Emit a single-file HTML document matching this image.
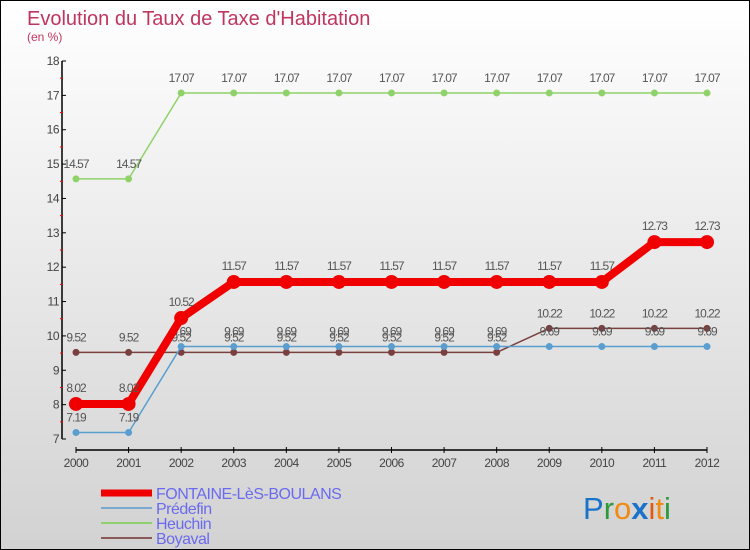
<!DOCTYPE html>
<html><head><meta charset="utf-8"><style>
body{margin:0}
#wrap{width:748px;height:548px;border:1px solid #000;background:linear-gradient(#fff,#d2d2d2);position:relative;overflow:hidden;font-family:"Liberation Sans",sans-serif}
</style></head><body>
<div id="wrap">
<svg id="c" width="748" height="548" xmlns="http://www.w3.org/2000/svg">
<text x="26" y="24" font-size="20" fill="#c0355f">Evolution du Taux de Taxe d'Habitation</text>
<text x="26" y="40" font-size="12" fill="#c0355f">(en %)</text>
<g font-size="31" font-family="Liberation Sans, sans-serif">
<text x="582" y="518"><tspan fill="#1a73c8">P</tspan><tspan fill="#2a9a3a">r</tspan><tspan fill="#f08a10">o</tspan><tspan fill="#1a73c8" font-weight="bold">x</tspan><tspan fill="#e05a10">i</tspan><tspan fill="#f08a10">t</tspan><tspan fill="#2a9a3a">i</tspan></text>
</g>
</svg>
</div>
<script>
const years=[2000,2001,2002,2003,2004,2005,2006,2007,2008,2009,2010,2011,2012];
const fontaine=[8.02,8.02,10.52,11.57,11.57,11.57,11.57,11.57,11.57,11.57,11.57,12.73,12.73];
const predefin=[7.19,7.19,9.69,9.69,9.69,9.69,9.69,9.69,9.69,9.69,9.69,9.69,9.69];
const heuchin=[14.57,14.57,17.07,17.07,17.07,17.07,17.07,17.07,17.07,17.07,17.07,17.07,17.07];
const boyaval=[9.52,9.52,9.52,9.52,9.52,9.52,9.52,9.52,9.52,10.22,10.22,10.22,10.22];
const yTicks=[7,8,9,10,11,12,13,14,15,16,17,18];
const seriesNames=["FONTAINE-LèS-BOULANS","Prédefin","Heuchin","Boyaval"];
const NS="http://www.w3.org/2000/svg";
const svg=document.getElementById('c');
const X=i=>75+i*(706-75)/(years.length-1);
const Y=v=>438-(v-7)*(378/11);
function mk(t,a,p){const e=document.createElementNS(NS,t);for(const k in a)e.setAttribute(k,a[k]);(p||svg).appendChild(e);return e;}
let ax=mk('g',{});


mk('line',{x1:61,y1:60,x2:61,y2:438,stroke:'#000','stroke-width':1.5},ax);
mk('line',{x1:75,y1:449,x2:706,y2:449,stroke:'#000','stroke-width':1.5},ax);
yTicks.forEach(v=>{
 mk('line',{x1:61,y1:Y(v),x2:65,y2:Y(v),stroke:'#000'},ax);
 if(v<18)mk('line',{x1:59,y1:Y(v+0.5),x2:62,y2:Y(v+0.5),stroke:'#f00'},ax);
 const t=mk('text',{x:58,y:Y(v)+4,'text-anchor':'end','font-size':12,fill:'#444','letter-spacing':'-0.5'},ax);t.textContent=v;
 
 
});
years.forEach((y,i)=>{
 mk('line',{x1:X(i),y1:446,x2:X(i),y2:452,stroke:'#000'},ax);
 const t=mk('text',{x:X(i),y:466,'text-anchor':'middle','font-size':12,fill:'#444','letter-spacing':'-0.5'},ax);t.textContent=y;
 
 
});
function series(data,color,lw,r,name,labelDy){
 const g=mk('g',{});
 
 
 mk('polyline',{points:data.map((v,i)=>X(i)+','+Y(v)).join(' '),fill:'none',stroke:color,'stroke-width':lw,'stroke-linejoin':'round'},g);
 data.forEach((v,i)=>{
  const c=mk('circle',{cx:X(i),cy:Y(v),r:r,fill:color},g);
  
  
  const t=mk('text',{x:X(i),y:Y(v)+labelDy,'text-anchor':'middle','font-size':12,fill:'#555','letter-spacing':'-1'},g);t.textContent=v.toFixed(2);
  
  
 });
}
series(heuchin,'#8fd26a',1.5,3.5,'series-heuchin',-11);
series(boyaval,'#7a4040',1.5,3.5,'series-boyaval',-11);
series(predefin,'#5a9ed0',1.5,3.5,'series-predefin',-11);
series(fontaine,'#f00000',8,7,'series-fontaine',-12);
const cols=['#f00000','#7aa8d0','#90d070','#8a5a5a'],lws=[7,2,2,2];
seriesNames.forEach((n,i)=>{
 const y=492+i*15;
 const g=mk('g',{});
 
 
 mk('line',{x1:100,y1:y,x2:151,y2:y,stroke:cols[i],'stroke-width':lws[i]},g);
 const t=mk('text',{x:155,y:y+6,'font-size':16,fill:'#6a6af0','letter-spacing':'-0.5'},g);t.textContent=n;
});
</script>
</body></html>
